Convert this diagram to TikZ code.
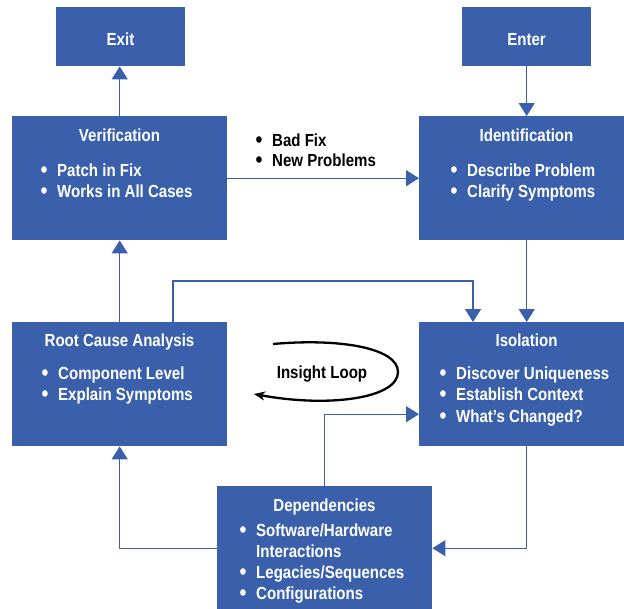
\documentclass[tikz,border=0pt]{standalone}
\usepackage{fontspec}
\setmainfont{Liberation Sans}[FakeStretch=0.86]
\usetikzlibrary{arrows.meta}
\definecolor{boxblue}{RGB}{58,96,172}
\newcommand\bul{\makebox[17pt][l]{\hspace{0.5pt}\smash{\raisebox{-0.1em}{\scalebox{1.3}{\textbullet}}}}}
\begin{document}
\begin{tikzpicture}[x=1pt,y=-1pt,
  box/.style={fill=boxblue, anchor=north west, inner sep=0pt,
              minimum width=215pt, minimum height=124pt},
  smallbox/.style={box, minimum width=129pt, minimum height=59pt},
  wtxt/.style={text=white, inner sep=0pt,
               font=\bfseries\fontsize{17.5pt}{21pt}\selectfont},
  title/.style={wtxt, anchor=base},
  item/.style={wtxt, anchor=base west},
  btxt/.style={text=black, inner sep=0pt, anchor=base west,
               font=\bfseries\fontsize{17.5pt}{20pt}\selectfont},
  conn/.style={draw=boxblue, line width=1.4pt,
               -{Triangle[length=13pt,width=16pt]}},
]
\useasboundingbox (0,0) rectangle (624,608);
\clip (0,0) rectangle (624,608);

% boxes
\node[smallbox] (exit)  at (56,7)   {};
\node[smallbox] (enter) at (462,7)  {};
\node[box] (ver)   at (12,116)  {};
\node[box] (ident) at (419,116) {};
\node[box] (root)  at (12,322)  {};
\node[box] (iso)   at (419,322) {};
\node[box] (dep)   at (217,486) {};

% box texts
\node[title] (exitT)  at (120.5,45) {Exit};
\node[title] (enterT) at (526.5,45) {Enter};

\node[title] (verT) at (119.5,141) {Verification};
\node[item] (ver1) at (40,176) {\bul Patch in Fix};
\node[item] (ver2) at (40,197) {\bul Works in All Cases};

\node[title] (identT) at (526.5,141) {Identification};
\node[item] (ident1) at (450,176) {\bul Describe Problem};
\node[item] (ident2) at (450,197) {\bul Clarify Symptoms};

\node[title] (rootT) at (119.5,346) {Root Cause Analysis};
\node[item] (root1) at (41,379) {\bul Component Level};
\node[item] (root2) at (41,400) {\bul Explain Symptoms};

\node[title] (isoT) at (526.5,346) {Isolation};
\node[item] (iso1) at (439,379) {\bul Discover Uniqueness};
\node[item] (iso2) at (439,400) {\bul Establish Context};
\node[item] (iso3) at (439,422) {\bul What's Changed?};

\node[title] (depT) at (324.5,511) {Dependencies};
\node[item] (dep1) at (239,536) {\bul Software/Hardware};
\node[item] (dep2) at (256,557) {Interactions};
\node[item] (dep3) at (239,578) {\bul Legacies/Sequences};
\node[item] (dep4) at (239,599) {\bul Configurations};

% label on the feedback connector (two bulleted lines, anchored on the last baseline)
\node[btxt, align=left] (bad) at (255,166) {\bul Bad Fix\\\bul New Problems};

% connectors
\draw[conn] (ver.north) -- (ver.north |- exit.south);
\draw[conn] (enter.south) -- (ident.north);
\draw[conn] (ver.east) -- (ident.west);
\draw[conn] (ident.south) -- (iso.north);
\draw[conn] (root.north) -- (ver.south);
\draw[conn] ([xshift=161pt]root.north west) -- ++(0,-41)
            -| ([xshift=54pt]iso.north west);
\draw[conn] (dep.north) |- ([yshift=-30pt]iso.west);
\draw[conn] (dep.west) -| (root.south);
\draw[conn] (iso.south) |- (dep.east);

% insight loop
\node[btxt, anchor=base] (loopT) at (322,378) {Insight Loop};
\draw[black, line width=2.3pt, -{Stealth[length=11pt,width=9pt]}]
  (273,344) .. controls (340,338) and (398,348) .. (398,372)
            .. controls (398,398) and (330,408) .. (254,394);
\end{tikzpicture}
\end{document}
